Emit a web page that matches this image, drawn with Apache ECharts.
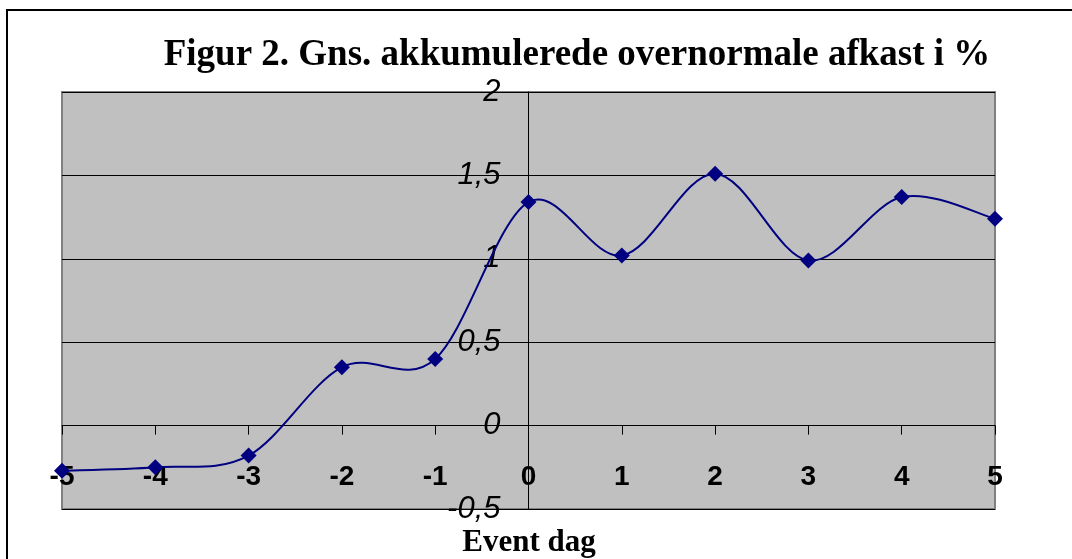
<!DOCTYPE html>
<html lang="da">
<head>
  <meta charset="UTF-8" />
  <title>Figur 2</title>
  <script src="https://cdn.jsdelivr.net/npm/echarts@6/dist/echarts.min.js"></script>
  <style>
    html, body { margin: 0; padding: 0; background: #fff; }
  </style>
</head>
<body>
  <div id="main" style="width:1072px;height:559px;"></div>
  <script type="text/javascript">
    // event dage og gns. akkumulerede overnormale afkast (%)
    var days = [-5, -4, -3, -2, -1, 0, 1, 2, 3, 4, 5]
    var car = [-0.27, -0.25, -0.18, 0.35, 0.40, 1.34, 1.02, 1.51, 0.99, 1.37, 1.24]

    var titleText = 'Figur 2. Gns. akkumulerede overnormale afkast i %'
    var xName = 'Event dag'

    var points = days.map(function (d, i) { return [d, car[i]] })

    // plot-område i pixels
    var gridLeft = 62, gridRight = 77, gridTop = 92, gridBottom = 50
    var gridW = 1072 - gridLeft - gridRight
    var gridH = 559 - gridTop - gridBottom
    var yMin = -0.5, yMax = 2

    var myChart = echarts.init(document.getElementById('main'))

    // Excel-agtig udglatning (Catmull-Rom som bezier), et segment pr. punkt
    function renderCurve(params, api) {
      var i = params.dataIndex
      if (i >= points.length - 1) return null
      var p0 = api.coord(points[Math.max(i - 1, 0)])
      var p1 = api.coord(points[i])
      var p2 = api.coord(points[i + 1])
      var p3 = api.coord(points[Math.min(i + 2, points.length - 1)])
      return {
        type: 'bezierCurve',
        shape: {
          x1: p1[0], y1: p1[1],
          cpx1: p1[0] + (p2[0] - p0[0]) / 6,
          cpy1: p1[1] + (p2[1] - p0[1]) / 6,
          cpx2: p2[0] - (p3[0] - p1[0]) / 6,
          cpy2: p2[1] - (p3[1] - p1[1]) / 6,
          x2: p2[0], y2: p2[1]
        },
        style: { fill: null, stroke: '#000080', lineWidth: 2 }
      }
    }

    var option = {
      animation: false,
      backgroundColor: '#ffffff',
      title: {
        text: titleText,
        left: 572,
        top: 32,
        textAlign: 'center',
        textStyle: {
          fontFamily: 'Liberation Serif',
          fontWeight: 'bold',
          fontSize: 37,
          color: '#000'
        }
      },
      graphic: [{
        // ydre ramme
        type: 'rect',
        shape: { x: 7, y: 10, width: 1100, height: 600 },
        style: { fill: 'none', stroke: '#000', lineWidth: 2 },
        silent: true
      }, {
        type: 'text',
        x: 529,
        y: 527,
        style: {
          text: xName,
          align: 'center',
          textAlign: 'center',
          fontFamily: 'Liberation Serif',
          fontWeight: 'bold',
          fontSize: 31,
          fill: '#000'
        }
      }],
      grid: {
        left: gridLeft,
        right: gridRight,
        top: gridTop,
        bottom: gridBottom,
        outerBoundsMode: 'none',
        show: true,
        backgroundColor: '#c0c0c0',
        borderColor: '#808080',
        borderWidth: 2
      },
      xAxis: {
        type: 'value',
        min: -5,
        max: 5,
        interval: 1,
        position: 'bottom',
        // aksen ligger ved y = 0
        offset: -gridH * (0 - yMin) / (yMax - yMin),
        axisLine: { onZero: false, lineStyle: { color: '#000', width: 1 } },
        axisTick: { show: true, length: 9, lineStyle: { color: '#000' } },
        splitLine: { show: false },
        axisLabel: {
          margin: 38,
          color: '#000',
          fontFamily: 'Liberation Sans',
          fontWeight: 'bold',
          fontSize: 28
        }
      },
      yAxis: {
        type: 'value',
        min: yMin,
        max: yMax,
        interval: 0.5,
        position: 'left',
        // aksen ligger ved x = 0
        offset: -gridW / 2,
        axisLine: { onZero: false, lineStyle: { color: '#000', width: 1 } },
        axisTick: { show: true, length: 9, lineStyle: { color: '#000' } },
        splitLine: { show: true, lineStyle: { color: '#000', width: 1 } },
        axisLabel: {
          margin: 28,
          color: '#000',
          fontFamily: 'Liberation Sans',
          fontStyle: 'italic',
          fontSize: 31,
          formatter: function (v) { return String(v).replace('.', ',') }
        }
      },
      series: [{
        type: 'custom',
        coordinateSystem: 'cartesian2d',
        renderItem: renderCurve,
        data: points,
        z: 3
      }, {
        type: 'scatter',
        data: points,
        symbol: 'diamond',
        symbolSize: 16,
        itemStyle: { color: '#000080', opacity: 1 },
        z: 4
      }]
    }

    myChart.setOption(option)
  </script>
</body>
</html>
